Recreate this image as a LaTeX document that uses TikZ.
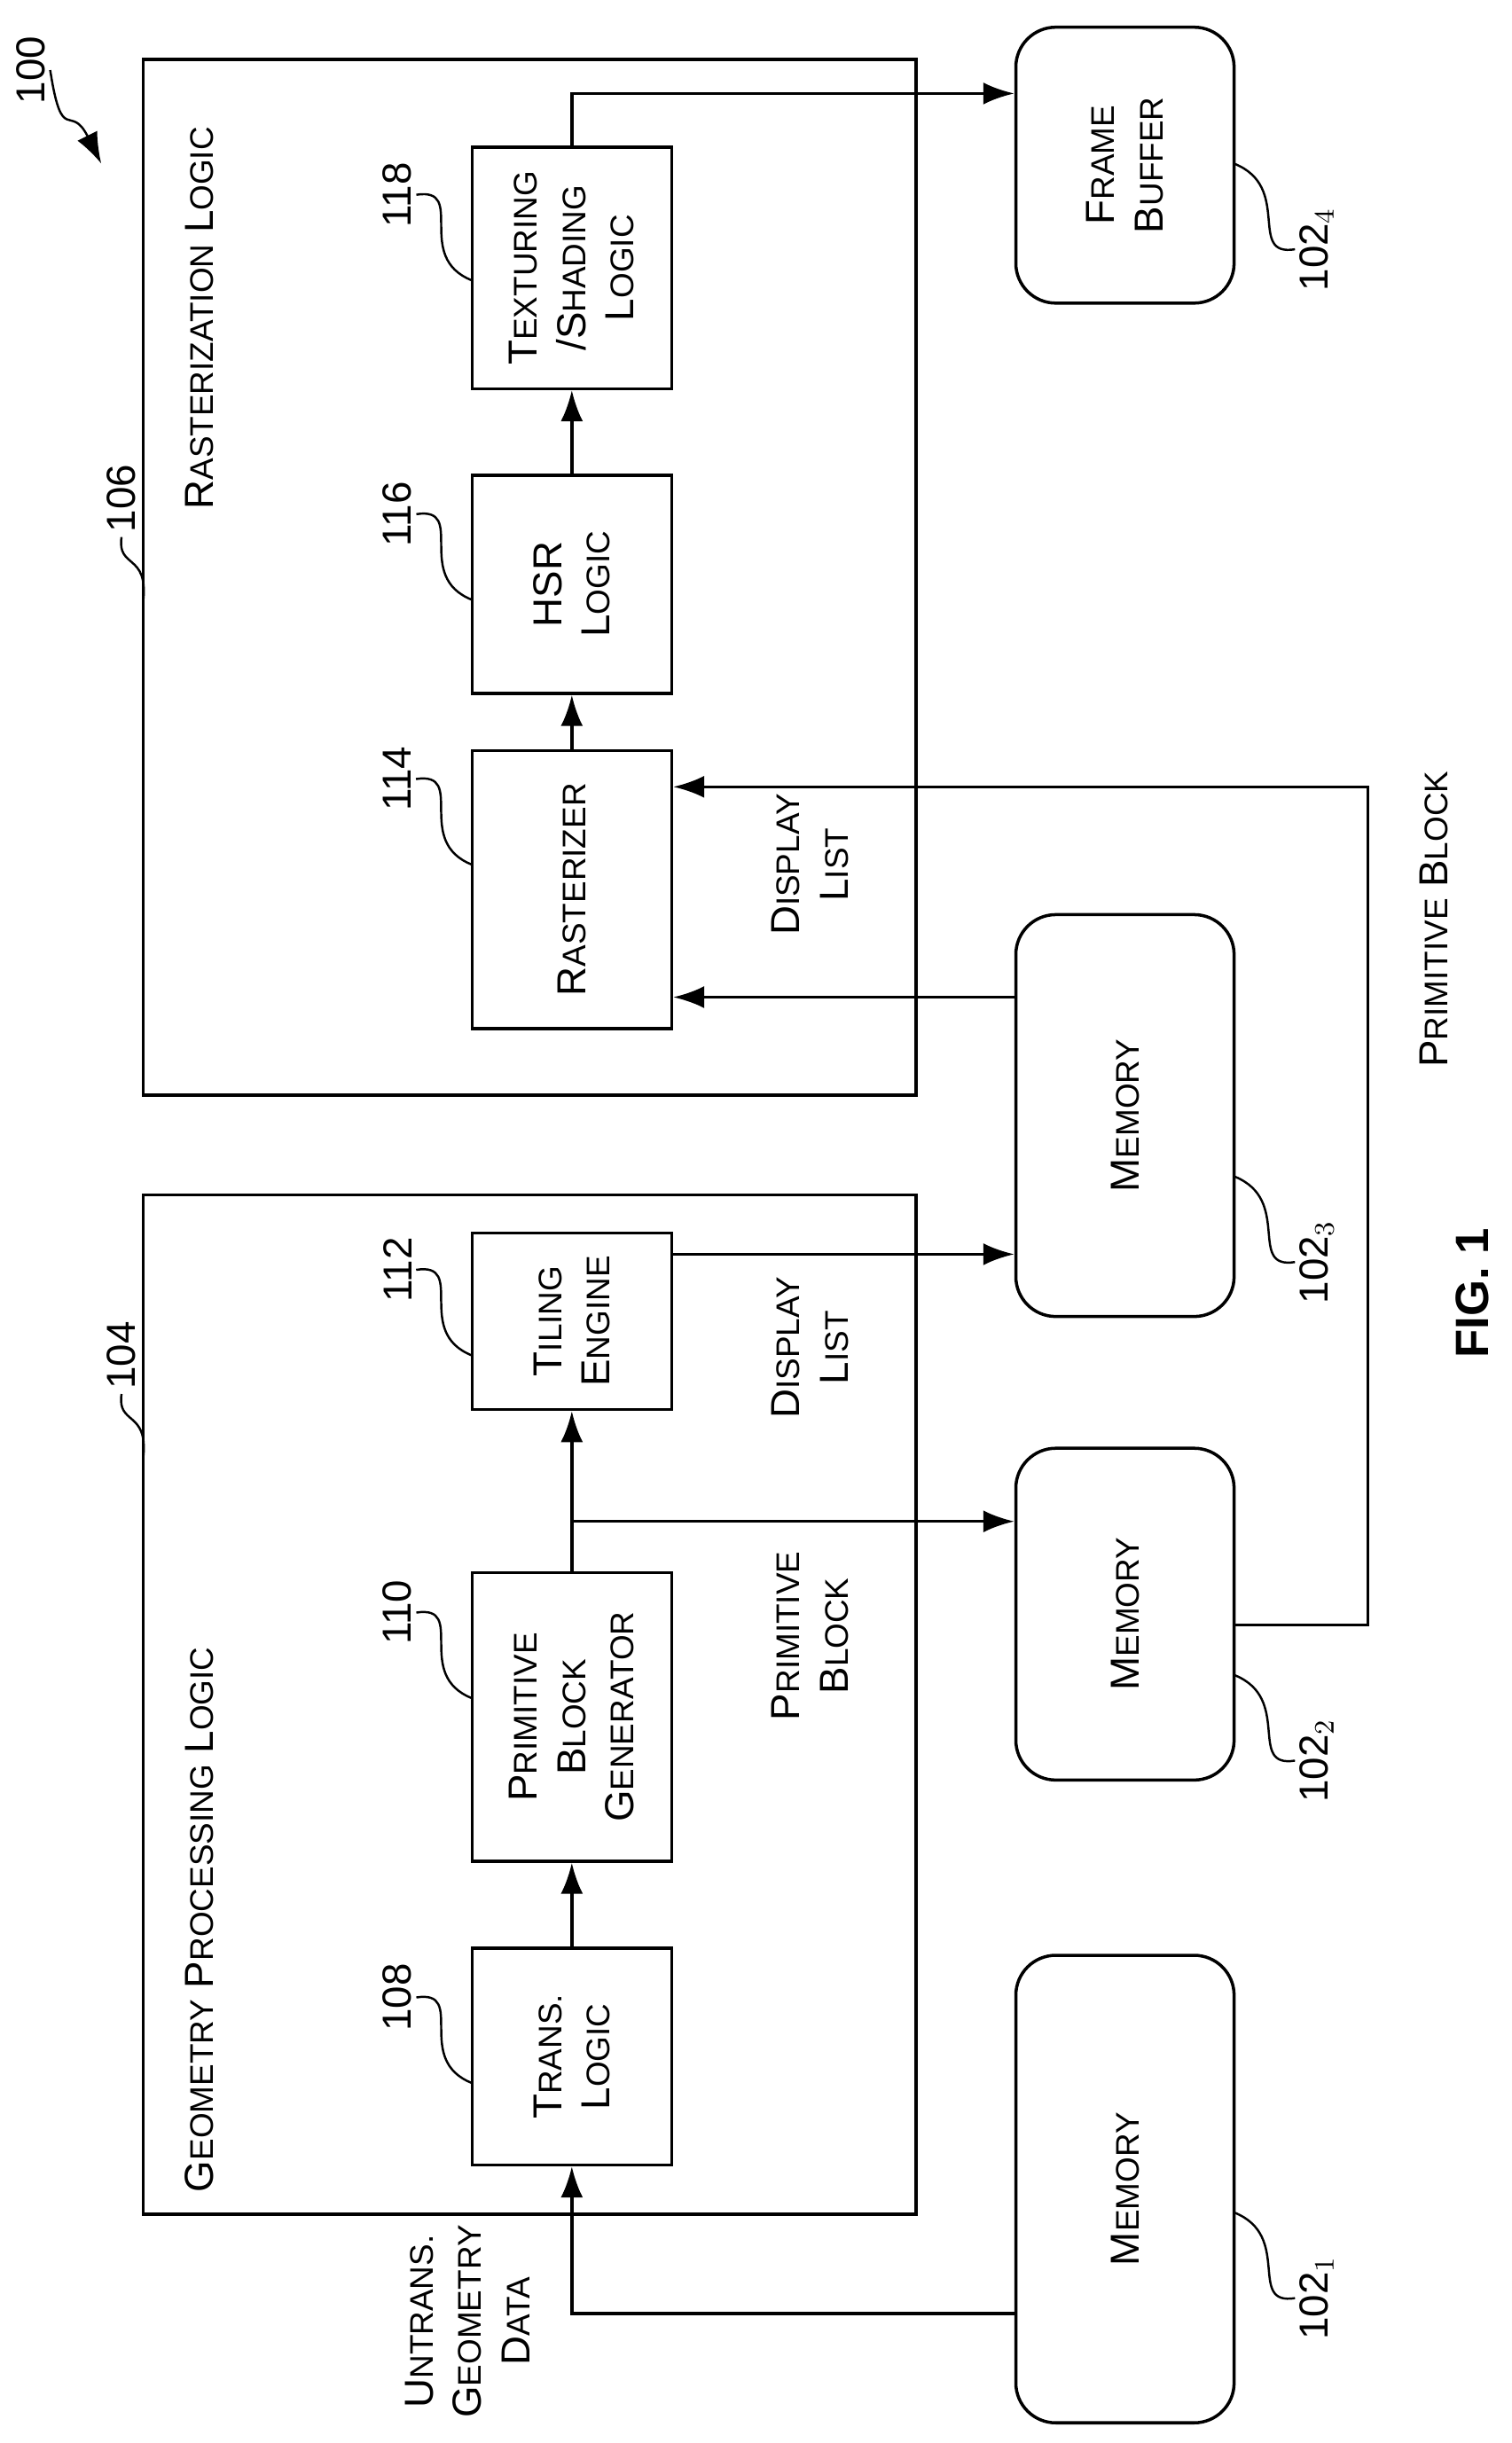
\documentclass[tikz,border=0pt]{standalone}
\usepackage{fontspec}
\setmainfont{Liberation Sans}
\usetikzlibrary{calc,arrows.meta}
\newcommand\sct[2]{#1{\fontsize{10.5}{15.5}\selectfont #2}}

\begin{document}
\begin{tikzpicture}[x=0.01757cm,y=-0.01757cm,line width=1pt,
    every node/.append style={font=\fontsize{13}{15.5}\selectfont, align=center},
    blk/.style={draw, rotate=90, minimum height=2.25cm, inner sep=0pt},
    mem/.style={draw, rotate=90, minimum height=2.46cm, rounded corners=0.45cm, inner sep=0pt},
    lbl/.style={rotate=90, inner sep=1pt},
    arr/.style={-{Latex[length=3.5mm,width=2.5mm]}}]
    \useasboundingbox (0,0) rectangle (970,1568);

    \draw (92,767) rectangle (588,1421);
    \draw (92,38) rectangle (588,703);
    \node [lbl, anchor=west] (GPL) at (128,1410) {\sct{G}{EOMETRY} \sct{P}{ROCESSING} \sct{L}{OGIC}};
    \node [lbl, anchor=west] (RL) at (128,330) {\sct{R}{ASTERIZATION} \sct{L}{OGIC}};

    \node [blk, minimum width=2.44cm] (trans) at (367,1320) {\sct{T}{RANS.}\\\sct{L}{OGIC}};
    \node [blk, minimum width=3.25cm] (pbg) at (367,1102) {\sct{P}{RIMITIVE}\\\sct{B}{LOCK}\\\sct{G}{ENERATOR}};
    \node [blk, minimum width=1.99cm] (tiling) at (367,848) {\sct{T}{ILING}\\\sct{E}{NGINE}};
    \node [blk, minimum width=3.13cm] (rast) at (367,571) {\sct{R}{ASTERIZER}};
    \node [blk, minimum width=2.46cm] (hsr) at (367,375) {HSR\\\sct{L}{OGIC}};
    \node [blk, minimum width=2.72cm] (tex) at (367,172) {\sct{T}{EXTURING}\\/\sct{S}{HADING}\\\sct{L}{OGIC}};

    \node [mem, minimum width=5.27cm] (mem1) at (722,1405) {\sct{M}{EMORY}};
    \node [mem, minimum width=3.74cm] (mem2) at (722,1036) {\sct{M}{EMORY}};
    \node [mem, minimum width=4.53cm] (mem3) at (722,716) {\sct{M}{EMORY}};
    \node [mem, minimum width=3.11cm] (fb) at (722,106) {\sct{F}{RAME}\\\sct{B}{UFFER}};

    % connectors
    \draw [arr] ($(mem1.north)+(0,80)$) -| (trans.west);
    \draw [arr] (trans.east) -- (pbg.west);
    \draw [arr] (pbg.east) -- (tiling.west);
    \coordinate (split) at ($(pbg.east)+(0,-32)$);
    \draw [arr] (split) -- (split -| mem2.north);
    \draw [arr] ($(tiling.south)+(0,-43)$) -- ($(mem3.north)+(0,89)$);
    \draw [arr] ($(mem3.north)+(0,-76)$) -- ($(rast.south)+(0,69)$);
    \coordinate (loop) at (878,505);
    \draw [arr] ($(mem2.south)+(0,7)$) -| (loop) -- ($(rast.south)+(0,-66)$);
    \draw [arr] (rast.east) -- (hsr.west);
    \draw [arr] (hsr.east) -- (tex.west);
    \coordinate (top) at (367,60);
    \draw [arr] (tex.east) -- (top) -- (top -| fb.north);

    % flow labels
    \node [lbl] (ugd) at (300,1490) {\sct{U}{NTRANS.}\\\sct{G}{EOMETRY}\\\sct{D}{ATA}};
    \node [lbl] (pb1) at (520,1050) {\sct{P}{RIMITIVE}\\\sct{B}{LOCK}};
    \node [lbl] (dl1) at (520,865) {\sct{D}{ISPLAY}\\\sct{L}{IST}};
    \node [lbl] (dl2) at (520,555) {\sct{D}{ISPLAY}\\\sct{L}{IST}};
    \node [lbl] (pb2) at (920,590) {\sct{P}{RIMITIVE} \sct{B}{LOCK}};
    \node [lbl, font=\bfseries\fontsize{15}{18}\selectfont] (fig) at (945,830) {FIG. 1};

    % reference numerals
    \node [lbl] (n100) at (20,45) {100};
    \draw [arr, line width=0.7pt] (n100.south) .. controls (40,95) and (45,65) .. (65,105);
    \node [lbl] (n104) at (78,870) {104};
    \node [lbl] (n106) at (78,320) {106};
    \draw [line width=0.7pt] (n104.west) .. controls (75,915) and (95,905) .. (92,935);
    \draw [line width=0.7pt] (n106.west) .. controls (75,365) and (95,355) .. (92,385);
    \foreach \n/\b/\y in {108/trans/1282, 110/pbg/1035, 112/tiling/815, 114/rast/500, 116/hsr/330, 118/tex/125} {
        \node [lbl] (n\n) at (255,\y) {\n};
        \draw [line width=0.7pt] (n\n.south) .. controls (300,\y-5) and (265,\y+40) .. (303,\y+55);
    }
    \foreach \i/\y in {1/1475, 2/1130, 3/810, 4/160} {
        \node [lbl] (m\i) at (845,\y) {102$_{\i}$};
        \draw [line width=0.7pt] (m\i.north) .. controls (800,\y+5) and (830,\y-40) .. (792,\y-55);
    }
\end{tikzpicture}
\end{document}
